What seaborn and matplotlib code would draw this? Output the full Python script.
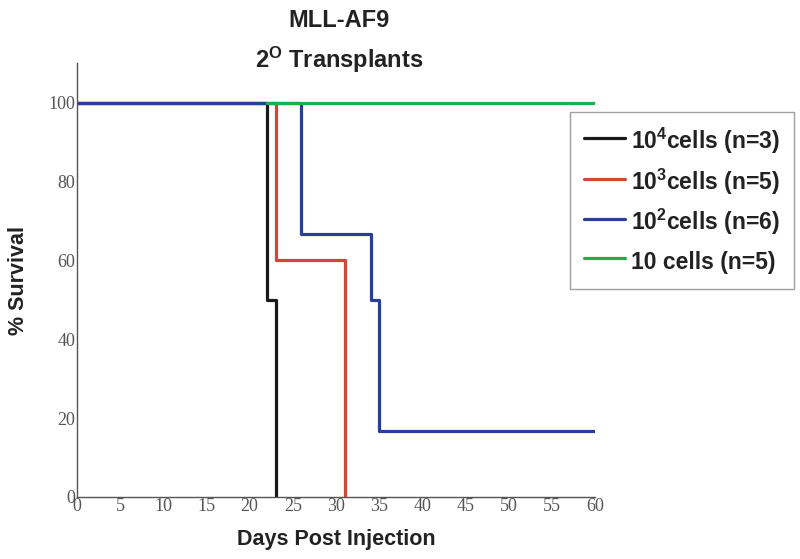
import numpy as np
import pandas as pd
import matplotlib
matplotlib.use("Agg")
import matplotlib.pyplot as plt
import seaborn as sns

# Kaplan-Meier step points (day, % survival)
days_1e4 = [0, 22, 23]
surv_1e4 = [100, 50, 0]
days_1e3 = [0, 23, 31]
surv_1e3 = [100, 60, 0]
days_1e2 = [0, 26, 34, 35, 60]
surv_1e2 = [100, 66.7, 50, 16.7, 16.7]
days_10 = [22, 60]
surv_10 = [100, 100]

labels = [r"10$^{4}$cells (n=3)", r"10$^{3}$cells (n=5)",
          r"10$^{2}$cells (n=6)", "10 cells (n=5)"]
colors = ["#1a1a1a", "#d2463a", "#2b3e93", "#22ad4b"]

x_ticks = list(range(0, 61, 5))
y_ticks = list(range(0, 101, 20))

sns.set_style("ticks")
plt.rcParams["font.family"] = ["Liberation Sans", "DejaVu Sans"]
plt.rcParams["mathtext.fontset"] = "custom"
plt.rcParams["mathtext.rm"] = "Liberation Sans:bold"
plt.rcParams["mathtext.it"] = "Liberation Sans:bold"
plt.rcParams["mathtext.bf"] = "Liberation Sans:bold"

frames = []
for d, s, lab in zip([days_1e4, days_1e3, days_1e2, days_10],
                     [surv_1e4, surv_1e3, surv_1e2, surv_10], labels):
    frames.append(pd.DataFrame({"day": d, "survival": s, "group": lab}))
df = pd.concat(frames, ignore_index=True)

fig = plt.figure(figsize=(8, 5.59), dpi=100)
ax = fig.add_axes([0.09625, 0.111, 0.6475, 0.776])

sns.lineplot(data=df, x="day", y="survival", hue="group", hue_order=labels,
             palette=colors, drawstyle="steps-post", estimator=None,
             linewidth=2.3, ax=ax)

ax.set_xlim(0, 60)
ax.set_ylim(0, 110)
ax.set_xticks(x_ticks)
ax.set_yticks(y_ticks)
ax.tick_params(length=0, pad=1, colors="#555555", labelsize=13)
for lab in ax.get_xticklabels() + ax.get_yticklabels():
    lab.set_fontfamily("Liberation Serif")
for sp in ["top", "right"]:
    ax.spines[sp].set_visible(False)
for sp in ["left", "bottom"]:
    ax.spines[sp].set_color("#555555")
    ax.spines[sp].set_linewidth(1.0)

ax.set_xlabel("Days Post Injection", fontsize=15.5, fontweight="bold",
              color="#222222", labelpad=10)
ax.set_ylabel("% Survival", fontsize=15.5, fontweight="bold",
              color="#222222", labelpad=14)

fig.text(0.424, 0.963, "MLL-AF9", ha="center", va="center",
         fontsize=17, fontweight="bold", color="#222222")
fig.text(0.424, 0.893, r"2$^{\mathrm{O}}$ Transplants", ha="center", va="center",
         fontsize=17, fontweight="bold", color="#222222")

leg = ax.legend(loc="upper left", bbox_to_anchor=(0.713, 0.799),
                bbox_transform=fig.transFigure, fancybox=False,
                edgecolor="#888888", handlelength=1.8, handleheight=1.5,
                handletextpad=0.25, labelspacing=0.45, borderpad=0.6,
                borderaxespad=0, prop={"weight": "bold", "size": 16.5})
leg.get_frame().set_linewidth(1.0)
for t in leg.get_texts():
    t.set_color("#222222")

fig.savefig("out.png", dpi=100)
